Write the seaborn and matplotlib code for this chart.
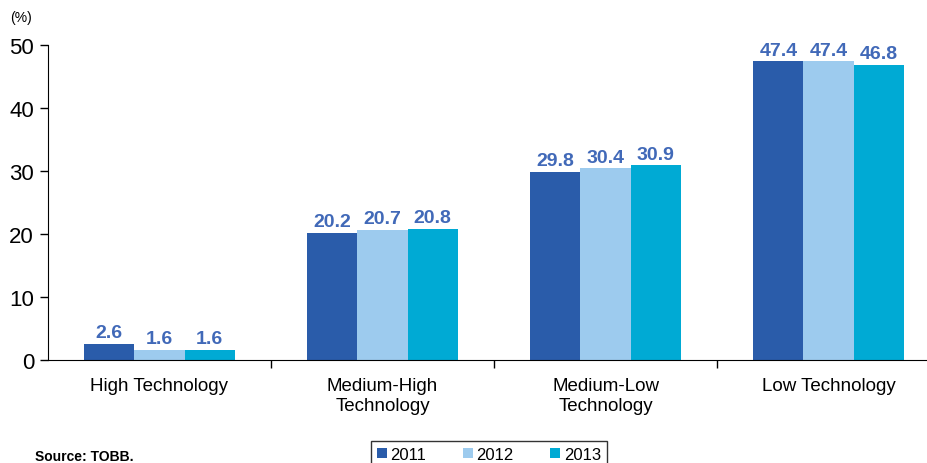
import numpy as np
import pandas as pd
import seaborn as sns
import matplotlib.pyplot as plt
from matplotlib.patches import Patch

categories = ["High Technology", "Medium-High\nTechnology", "Medium-Low\nTechnology", "Low Technology"]
years = ["2011", "2012", "2013"]
v2011 = [2.6, 20.2, 29.8, 47.4]
v2012 = [1.6, 20.7, 30.4, 47.4]
v2013 = [1.6, 20.8, 30.9, 46.8]
colors = ["#2A5CAA", "#9DCBEE", "#00AAD4"]

df = pd.DataFrame({
    "category": categories * 3,
    "year": [y for y in years for _ in categories],
    "value": v2011 + v2012 + v2013,
})

sns.set_style("white")
plt.rcParams["font.family"] = ["Liberation Sans", "DejaVu Sans"]
plt.rcParams["text.color"] = "black"
plt.rcParams["xtick.color"] = "black"
plt.rcParams["ytick.color"] = "black"

fig = plt.figure(figsize=(9.27, 4.64), dpi=100)
ax = fig.add_axes([48 / 927, 1 - 361 / 464, 892 / 927, 315 / 464])

sns.barplot(data=df, x="category", y="value", hue="year", palette=colors,
            width=0.675, gap=0, saturation=1, linewidth=0, ax=ax, legend=False)

for cont in ax.containers:
    ax.bar_label(cont, fmt="%.1f", padding=2, color="#4169B8",
                 fontsize=14, fontweight="bold")

ax.set_ylim(0, 50)
ax.set_xlim(-0.5, 3.5)
ax.set_yticks(range(0, 51, 10))
ax.set_xlabel("")
ax.set_ylabel("")
for s in ["top", "right"]:
    ax.spines[s].set_visible(False)
ax.spines["left"].set_color("black")
ax.spines["bottom"].set_color("black")
ax.tick_params(axis="y", direction="out", length=6, width=1, labelsize=16, left=True, pad=4)
ax.tick_params(axis="x", which="major", length=0, labelsize=13.5, pad=12)
for lbl in ax.get_xticklabels():
    lbl.set_linespacing(1.25)
ax.set_xticks([0.5, 1.5, 2.5], minor=True)
ax.tick_params(axis="x", which="minor", direction="out", length=6, width=1, bottom=True)

fig.text(10 / 927, 1 - 18 / 464, "(%)", fontsize=10, va="center", ha="left")
fig.text(35 / 927, 1 - 457 / 464, "Source: TOBB.", fontsize=10, fontweight="bold",
         va="center", ha="left")

handles = [Patch(facecolor=c, edgecolor="none") for c in colors]
fig.legend(handles, years, loc="upper center", bbox_to_anchor=(489 / 927, 1 - 442 / 464),
           ncol=3, frameon=True, fancybox=False, edgecolor="black", fontsize=12,
           handlelength=0.6, handleheight=0.6, handletextpad=0.2, columnspacing=2.2,
           borderpad=0.35, borderaxespad=0)

fig.savefig("out.png", dpi=100)
